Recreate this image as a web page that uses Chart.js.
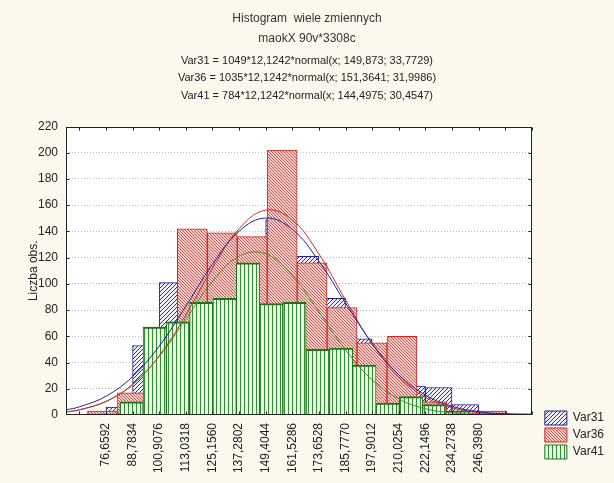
<!DOCTYPE html>
<html>
<head>
<meta charset="utf-8">
<script src="https://cdn.jsdelivr.net/npm/chart.js@4.4.1/dist/chart.umd.min.js"></script>
<style>
  html, body { margin: 0; padding: 0; background: #fbf9ee; }
</style>
</head>
<body>
<canvas id="histchart" width="614" height="483"></canvas>
<script>
// class width and class edge labels (Statistica, Polish decimal comma)
const binWidth = 12.1242;
const tickLabels = ["76,6592", "88,7834", "100,9076", "113,0318", "125,1560", "137,2802", "149,4044",
  "161,5286", "173,6528", "185,7770", "197,9012", "210,0254", "222,1496", "234,2738", "246,3980"];

// counts per class, each series listed from its first class
const var31 = [6, 53, 101, 115, 133, 135, 149, 121, 89, 58, 34, 22, 21, 8, 3, 1];
const var36 = [3, 17, 67, 142, 139, 136, 202, 116, 82, 55, 60, 10, 3, 3];
const var41 = [10, 67, 71, 86, 89, 116, 85, 86, 50, 51, 38, 9, 14, 8, 3, 1];

// fitted normal curves, read at the class edges
const fitX = [58.47, 64.535, 76.659, 88.783, 100.908, 113.032, 125.156, 137.280, 149.404, 161.529,
  173.653, 185.777, 197.901, 210.025, 222.150, 234.274, 246.398, 258.522, 270.65];
const fit31 = [3.9, 6.2, 14.3, 29.3, 52.5, 82.9, 114.9, 140.1, 150.2, 141.6, 117.3, 85.4, 54.7, 30.8, 15.2, 6.6, 2.5, 0.9, 0.3];
const fit36 = [2.3, 3.9, 10.3, 23.1, 45.1, 76.3, 111.9, 142.0, 156.2, 148.8, 122.8, 87.7, 54.3, 29.2, 13.6, 5.5, 1.9, 0.6, 0.2];
const fit41 = [2.3, 4.0, 10.4, 23.4, 44.7, 73.0, 101.8, 121.1, 122.9, 106.5, 78.8, 49.7, 26.8, 12.3, 4.8, 1.6, 0.5, 0.1, 0.0];

// Statistica shifts / stretches the class grid of the overlaid series
const grid31 = { first: 76.6592, width: binWidth };
const grid36 = { first: 68.26, width: binWidth * 9 / 8 };
const grid41 = { first: 82.98, width: binWidth * 7 / 8 };

const tickValues = tickLabels.map(t => parseFloat(t.replace(",", ".")));
const xMin = 58.47, xMax = 270.65;

function toPoints(counts, g) {
  return counts.map((c, i) => ({ x: g.first + g.width * (i + 0.5), y: c }));
}
function curve(ys) {
  return ys.map((y, i) => ({ x: fitX[i], y: y }));
}

function hatch(bg, fg, kind, size) {
  const c = document.createElement("canvas");
  c.width = size; c.height = size;
  const g = c.getContext("2d");
  g.fillStyle = bg;
  g.fillRect(0, 0, size, size);
  g.strokeStyle = fg;
  g.lineWidth = 1;
  g.beginPath();
  if (kind === "up") {
    for (const k of [0, size, 2 * size]) { g.moveTo(-1, k + 1); g.lineTo(k + 1, -1); }
  } else if (kind === "down") {
    for (const k of [-size, 0, size]) { g.moveTo(-1, k - 1); g.lineTo(size + 1, k + size + 1); }
  } else {
    g.moveTo(0.5, 0); g.lineTo(0.5, size);
  }
  g.stroke();
  return g.createPattern(c, "repeat");
}

const frame = {
  id: "frame",
  beforeDraw(chart) {
    const { ctx, chartArea: a } = chart;
    ctx.save();
    ctx.fillStyle = "#ffffff";
    ctx.fillRect(a.left, a.top, a.width, a.height);
    ctx.restore();
  },
  afterDraw(chart) {
    const { ctx, chartArea: a, scales } = chart;
    const L = Math.round(a.left) + 0.5, R = Math.round(a.right) - 0.5;
    const T = Math.round(a.top) + 0.5, B = Math.round(a.bottom) - 0.5;
    ctx.save();
    ctx.strokeStyle = "#222";
    ctx.lineWidth = 1;
    ctx.strokeRect(L, T, R - L, B - T);
    ctx.beginPath();
    for (let k = -1; k <= 16; k++) {
      const v = grid31.first + k * binWidth;
      if (v <= xMin || v >= xMax) continue;
      const px = Math.round(scales.x.getPixelForValue(v)) + 0.5;
      ctx.moveTo(px, T); ctx.lineTo(px, T + 3);
      ctx.moveTo(px, B); ctx.lineTo(px, B - 3);
    }
    for (let v = 20; v < 220; v += 20) {
      const py = Math.round(scales.y.getPixelForValue(v)) + 0.5;
      ctx.moveTo(L, py); ctx.lineTo(L + 3, py);
      ctx.moveTo(R, py); ctx.lineTo(R - 3, py);
    }
    ctx.stroke();
    ctx.restore();
  }
};

Chart.defaults.font.family = "'Liberation Sans', Arial, sans-serif";
Chart.defaults.font.size = 12;
Chart.defaults.color = "#222";

const barStyle = {
  barThickness: "flex",
  categoryPercentage: 1,
  barPercentage: 1,
  stack: "hist",
  borderSkipped: false
};

const histc = document.getElementById("histchart").getContext("2d");
const histchart = new Chart(histc, {
  type: "bar",
  data: {
    datasets: [
      {
        label: "Var31",
        data: toPoints(var31, grid31),
        backgroundColor: hatch("#f0f1fb", "#2b2b9c", "up", 4),
        borderColor: "#1c1c8c",
        borderWidth: 1,
        order: 3,
        ...barStyle
      },
      {
        label: "Var36",
        data: toPoints(var36, grid36),
        backgroundColor: hatch("#f5d6cf", "#d44a4a", "down", 3),
        borderColor: "#d42222",
        borderWidth: 1,
        order: 2,
        ...barStyle
      },
      {
        label: "Var41",
        data: toPoints(var41, grid41),
        backgroundColor: hatch("#eaf7e4", "#2f8f2f", "vert", 4),
        borderColor: "#1a761a",
        borderWidth: { top: 2, left: 1, right: 1, bottom: 0 },
        order: 1,
        ...barStyle
      },
      { type: "line", label: "fit31", data: curve(fit31), borderColor: "#22229a", borderWidth: 1, pointRadius: 0, tension: 0.4, fill: false, order: 0 },
      { type: "line", label: "fit36", data: curve(fit36), borderColor: "#d42a2a", borderWidth: 1, pointRadius: 0, tension: 0.4, fill: false, order: 0 },
      { type: "line", label: "fit41", data: curve(fit41), borderColor: "#4a8a2a", borderWidth: 1, pointRadius: 0, tension: 0.4, fill: false, order: 0 }
    ]
  },
  options: {
    responsive: false,
    animation: false,
    layout: { padding: { top: 0, right: 0, bottom: 4, left: 0 } },
    plugins: {
      title: {
        display: true,
        text: ["Histogram  wiele zmiennych", "maokX 90v*3308c"],
        font: { size: 12, weight: "normal", lineHeight: "19.5px" },
        color: "#333",
        padding: { top: 9, bottom: 0 }
      },
      subtitle: {
        display: true,
        text: [
          "Var31 = 1049*12,1242*normal(x; 149,873; 33,7729)",
          "Var36 = 1035*12,1242*normal(x; 151,3641; 31,9986)",
          "Var41 = 784*12,1242*normal(x; 144,4975; 30,4547)"
        ],
        font: { size: 11, lineHeight: "17.5px" },
        color: "#222",
        padding: { top: 4, bottom: 22 }
      },
      legend: {
        position: "right",
        align: "end",
        labels: {
          boxWidth: 22,
          boxHeight: 14,
          padding: 3,
          font: { size: 12 },
          generateLabels: chart => {
            const items = Chart.defaults.plugins.legend.labels.generateLabels(chart)
              .filter(item => item.datasetIndex < 3)
              .sort((a, b) => a.datasetIndex - b.datasetIndex);
            // empty spacer row keeps the legend off the bottom edge
            items.push({ text: "", fillStyle: "rgba(0,0,0,0)", strokeStyle: "rgba(0,0,0,0)", lineWidth: 0, hidden: false, datasetIndex: -1 });
            return items;
          }
        }
      },
      tooltip: { enabled: false }
    },
    scales: {
      x: {
        type: "linear",
        min: xMin,
        max: xMax,
        offset: false,
        grid: { display: false, offset: false, drawTicks: false },
        border: { display: false },
        afterBuildTicks: axis => { axis.ticks = tickValues.map(v => ({ value: v })); },
        afterFit: axis => { axis.height = 64; },
        ticks: {
          autoSkip: false,
          minRotation: 90,
          maxRotation: 90,
          padding: 8,
          font: { size: 12 },
          callback: (value, index) => tickLabels[index]
        }
      },
      y: {
        min: 0,
        max: 220,
        stacked: false,
        afterFit: axis => { axis.width = 66; },
        ticks: { stepSize: 20, padding: 8, font: { size: 12 } },
        grid: {
          drawTicks: false,
          color: c => (c.tick.value === 0 || c.tick.value === 220) ? "rgba(0,0,0,0)" : "#b9b9b9"
        },
        border: { display: false, dash: [1, 2] },
        title: { display: true, text: "Liczba obs.", font: { size: 12 }, padding: { top: 26, bottom: 0 } }
      },
      y2: {
        position: "right",
        min: 0,
        max: 220,
        grid: { display: false, drawTicks: false },
        border: { display: false },
        ticks: { display: false },
        afterFit: axis => { axis.width = 10; }
      }
    }
  },
  plugins: [frame]
});
</script>
</body>
</html>
